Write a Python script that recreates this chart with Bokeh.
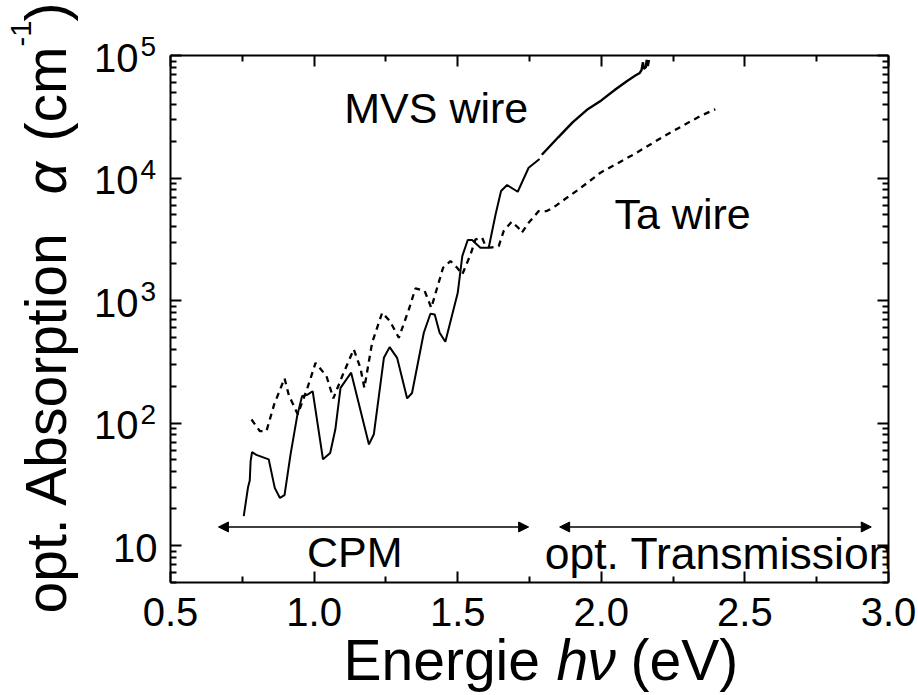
import math
from bokeh.plotting import figure
from bokeh.layouts import row, column
from bokeh.models import (Range1d, FixedTicker, LinearAxis, LogAxis, Label, Arrow,
                          NormalHead, CustomJSTickFormatter, LinearScale)
from bokeh.embed import file_html
from bokeh.resources import INLINE

# ---------------- data ----------------
mvs_cpm_x = [0.755, 0.770, 0.776, 0.779, 0.784, 0.799, 0.842, 0.863, 0.881, 0.897,
             0.918, 0.941, 0.958, 0.976, 0.995, 1.031, 1.056, 1.074, 1.092, 1.129,
             1.191, 1.208, 1.243, 1.263, 1.289, 1.324, 1.341, 1.382, 1.405, 1.420,
             1.437, 1.457, 1.500, 1.516, 1.535, 1.550, 1.579, 1.608, 1.632, 1.651,
             1.672, 1.709, 1.747, 1.785]
mvs_cpm_y = [17.4, 30, 34, 49, 58, 55, 50.6, 29.6, 24.5, 25.8,
             55.5, 114, 166, 170, 182, 50.6, 57, 89, 194, 258,
             67, 81, 341, 417, 341, 159, 176, 546, 780, 770,
             546, 461, 1150, 2307, 3119, 3119, 2698, 2698, 5058, 7830,
             8770, 7730, 12130, 14300]

mvs_tr_x = [1.793, 1.850, 1.900, 1.950, 2.000, 2.050, 2.090, 2.120, 2.134, 2.140,
            2.145, 2.148, 2.155, 2.158, 2.162, 2.166]
mvs_tr_y = [15500, 21500, 28500, 36000, 43000, 53000, 62000, 69000, 72000, 76000,
            88000, 78000, 80000, 92000, 82000, 92000]

ta_x = [0.782, 0.811, 0.834, 0.861, 0.897, 0.912, 0.943, 0.975, 1.005, 1.043,
        1.067, 1.098, 1.138, 1.161, 1.175, 1.202, 1.237, 1.264, 1.295, 1.330,
        1.353, 1.385, 1.408, 1.449, 1.475, 1.498, 1.516, 1.545, 1.562, 1.585,
        1.597, 1.614, 1.643, 1.660, 1.688, 1.711, 1.723, 1.747, 1.782, 1.810,
        1.840, 1.880, 1.922, 1.997, 2.113, 2.229, 2.345, 2.397]
ta_y = [107, 86, 86, 142, 232, 169, 118, 188, 310, 242,
        159, 242, 400, 283, 194, 453, 795, 680, 497, 847,
        1259, 1197, 873, 1853, 2100, 1853, 1637, 2385, 3160, 3260,
        2786, 2698, 2786, 3690, 4400, 3930, 3574, 4315, 5370, 5370,
        5900, 6900, 8090, 11050, 15600, 22700, 32100, 36400]

x_ticks = [0.5, 1.0, 1.5, 2.0, 2.5, 3.0]
x_tick_labels = ["0.5", "1.0", "1.5", "2.0", "2.5", "3.0"]
x_minor = [0.75, 1.25, 1.75, 2.25, 2.75]
y_ticks = [10, 100, 1000, 10000, 100000]
y_tick_exps = ["", "2", "3", "4", "5"]
y_minor = [k * 10 ** d for d in range(0, 5) for k in range(2, 10) if 5 <= k * 10 ** d < 1e5]

cpm_range = [0.667, 1.747]
trans_range = [1.855, 2.94]
arrow_y = 14.2

X_MIN, X_MAX = 0.5, 3.0
Y_MIN, Y_MAX = 5, 1e5

FONT = "Liberation Sans"

# ---------------- layout geometry (pixels) ----------------
W, H = 918, 695
TITLE_W = 90                      # panel with the rotated y title
TICK_X0 = 90                      # y tick label panel spans TICK_X0..MAIN_X0
MAIN_X0 = 160                     # main figure starts here
FRAME_L, FRAME_R, FRAME_T, FRAME_B = 170, 888, 55, 582
MAIN_H = FRAME_B + 2
BOT_H = H - MAIN_H

common = dict(output_backend="svg", toolbar_location=None, frame_align=False)
bare = dict(x_axis_location=None, y_axis_location=None, min_border=0,
            min_border_left=0, min_border_right=0, min_border_top=0, min_border_bottom=0)

# ---------------- main figure ----------------
p = figure(width=W - MAIN_X0, height=MAIN_H, y_axis_type="log",
           x_range=Range1d(X_MIN, X_MAX), y_range=Range1d(Y_MIN, Y_MAX),
           min_border_left=FRAME_L - MAIN_X0, min_border_right=W - FRAME_R,
           min_border_top=FRAME_T, min_border_bottom=MAIN_H - FRAME_B, **common)
p.outline_line_color = None
p.grid.visible = False


def style_axis(ax):
    ax.axis_line_width = 2
    ax.axis_line_color = "black"
    ax.major_tick_line_width = 2
    ax.minor_tick_line_width = 2
    ax.major_tick_line_color = "black"
    ax.minor_tick_line_color = "black"
    ax.major_tick_in = 11
    ax.major_tick_out = 0
    ax.minor_tick_in = 6
    ax.minor_tick_out = 0
    ax.formatter = CustomJSTickFormatter(code="return ''")
    ax.major_label_standoff = 0
    ax.major_label_text_font_size = "0px"


xax = p.xaxis[0]
xax.ticker = FixedTicker(ticks=x_ticks, minor_ticks=x_minor)
style_axis(xax)

yax = p.yaxis[0]
yax.ticker = FixedTicker(ticks=y_ticks, minor_ticks=y_minor)
style_axis(yax)

top = LinearAxis(ticker=FixedTicker(ticks=x_ticks, minor_ticks=x_minor))
style_axis(top)
p.add_layout(top, "above")

right = LogAxis(ticker=FixedTicker(ticks=y_ticks, minor_ticks=y_minor))
style_axis(right)
p.add_layout(right, "right")

# curves
p.line(mvs_cpm_x, mvs_cpm_y, line_color="black", line_width=2)
p.line(mvs_tr_x, mvs_tr_y, line_color="black", line_width=2.4)
p.line(ta_x, ta_y, line_color="black", line_width=2.3, line_dash="6 5")

# range arrows
for rng in (cpm_range, trans_range):
    p.add_layout(Arrow(x_start=rng[0], y_start=arrow_y, x_end=rng[1], y_end=arrow_y,
                       line_width=1.5, line_color="black",
                       start=NormalHead(size=10, fill_color="black", line_color="black", line_width=1),
                       end=NormalHead(size=10, fill_color="black", line_color="black", line_width=1)))


def lab(fig, text, x, y, size, **kw):
    fig.add_layout(Label(x=x, y=y, text=text, text_font=FONT, text_font_size=size,
                         text_color="black", text_baseline="middle", **kw))


lab(p, "MVS wire", 1.105, 37270, "43px")
lab(p, "Ta wire", 2.046, 5082, "43px")
lab(p, "CPM", 0.975, 8.85, "43px")
lab(p, "opt. Transmission", 1.803, 8.69, "44.5px")

# ---------------- y tick label panel (shares the log mapping of the frame) ----------------
decade_px = (FRAME_B - FRAME_T) / math.log10(Y_MAX / Y_MIN)
ky_hi = Y_MAX * 10 ** (FRAME_T / decade_px)
ky_lo = Y_MIN / 10 ** ((MAIN_H - FRAME_B) / decade_px)

K = figure(width=MAIN_X0 - TICK_X0, height=MAIN_H, y_axis_type="log",
           x_range=Range1d(TICK_X0, MAIN_X0), y_range=Range1d(ky_lo, ky_hi),
           **common, **bare)
K.outline_line_color = None
K.grid.visible = False

for v, e in zip(y_ticks, y_tick_exps):
    if e == "":
        lab(K, "10", 157, v, "40px", text_align="right", y_offset=-2)
    else:
        lab(K, "10", 138, v, "40px", text_align="right", y_offset=-2)
        lab(K, e, 140, v, "28px", text_align="left", y_offset=9)

# ---------------- y title panel ----------------
T = figure(width=TITLE_W, height=H, x_range=Range1d(0, TITLE_W), y_range=Range1d(H, 0),
           **common, **bare)
T.outline_line_color = None
T.grid.visible = False

R = math.pi / 2
lab(T, "opt. Absorption", 45, 613, "57px", angle=R)
lab(T, "\u03b1", 45, 194, "57px", angle=R, text_font_style="italic")
lab(T, "(cm", 45, 141, "57px", angle=R)
lab(T, "-1", 20, 46, "29px", angle=R)
lab(T, ")", 45, 21, "57px", angle=R)

# ---------------- bottom panel: x tick labels + x title ----------------
ppu = (FRAME_R - FRAME_L) / (X_MAX - X_MIN)
bx_lo = X_MIN - (FRAME_L - TICK_X0) / ppu
bx_hi = X_MAX + (W - FRAME_R) / ppu

B = figure(width=W - TICK_X0, height=BOT_H,
           x_range=Range1d(bx_lo, bx_hi), y_range=Range1d(H, MAIN_H),
           **common, **bare)
B.outline_line_color = None
B.grid.visible = False
B.extra_x_ranges = {"px": Range1d(TICK_X0, W)}
B.extra_x_scales = {"px": LinearScale()}

for t, s in zip(x_ticks, x_tick_labels):
    lab(B, s, t, 611, "40px", text_align="center")

TY = 659.5
lab(B, "Energie", 343, TY, "57px", x_range_name="px")
lab(B, "h", 556, TY, "57px", x_range_name="px", text_font_style="italic")
lab(B, "\u03bd", 587, TY, "57px", x_range_name="px", text_font_style="italic")
lab(B, "(eV)", 630, TY, "57px", x_range_name="px")

layout = row(T, column(row(K, p, spacing=0), B, spacing=0), spacing=0)

open("out.html", "w").write(file_html(layout, INLINE))
